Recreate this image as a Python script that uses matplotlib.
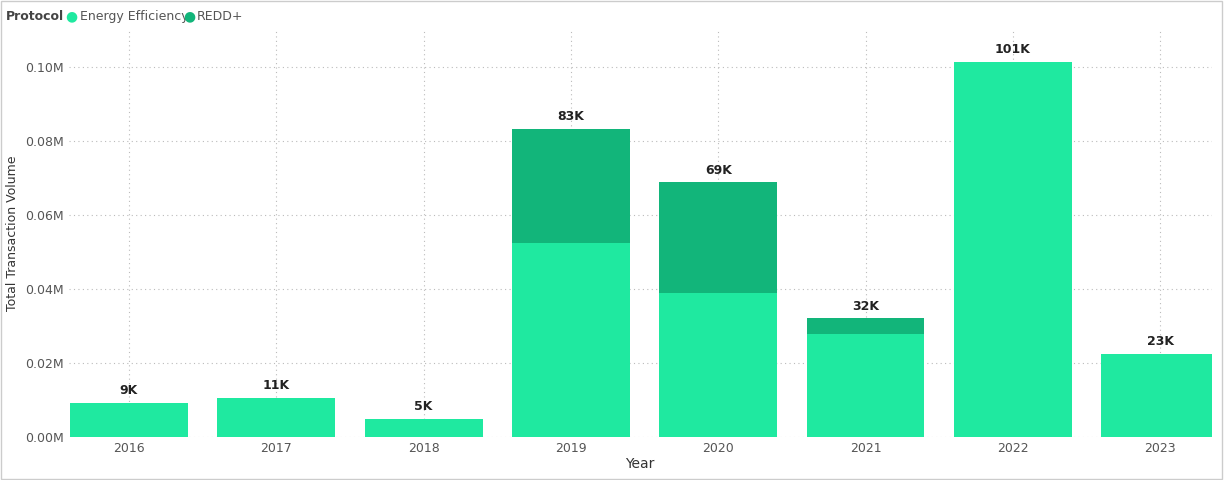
import matplotlib.pyplot as plt
from matplotlib.ticker import FuncFormatter

years = ['2016', '2017', '2018', '2019', '2020', '2021', '2022', '2023']
energy_eff = [0.0092, 0.0106, 0.0049, 0.0523, 0.0388, 0.0279, 0.1014, 0.0225]
redd = [0, 0, 0, 0.0309, 0.0300, 0.0041, 0, 0]
labels = ['9K', '11K', '5K', '83K', '69K', '32K', '101K', '23K']

c_ee = '#1FE9A0'
c_redd = '#12B57A'

fig = plt.figure(figsize=(12.24, 4.8), dpi=100)
ax = fig.add_axes([0.056, 0.09, 0.934, 0.85])

x = range(len(years))
ax.bar(x, energy_eff, width=0.8, color=c_ee, zorder=2)
ax.bar(x, redd, width=0.8, bottom=energy_eff, color=c_redd, zorder=2)
for i, lab in enumerate(labels):
    ax.text(i, energy_eff[i] + redd[i] + 0.0015, lab, ha='center', va='bottom',
            fontsize=9, fontweight='bold', color='#222222')

ax.set_xlim(-0.41, 7.35)
ax.set_ylim(0, 0.1103)
ax.set_yticks([0, 0.02, 0.04, 0.06, 0.08, 0.10])
ax.yaxis.set_major_formatter(FuncFormatter(lambda v, p: f'{v:.2f}M'))
ax.set_xticks(list(x))
ax.set_xticklabels(years)
ax.tick_params(length=0, labelsize=9, colors='#555555')
ax.grid(True, linestyle=(0, (1, 3)), color='#bbbbbb', linewidth=0.8, zorder=0)
for s in ax.spines.values():
    s.set_visible(False)
ax.set_xlabel('Year', fontsize=10, color='#333333', labelpad=2)
ax.set_ylabel('Total Transaction Volume', fontsize=9, color='#333333')

fig.text(0.005, 0.965, 'Protocol', fontsize=9, fontweight='bold', color='#444444', va='center')
fig.text(0.053, 0.965, '●', fontsize=10, color=c_ee, va='center')
fig.text(0.065, 0.965, 'Energy Efficiency', fontsize=9, color='#555555', va='center')
fig.text(0.150, 0.965, '●', fontsize=10, color=c_redd, va='center')
fig.text(0.161, 0.965, 'REDD+', fontsize=9, color='#555555', va='center')

fig.patches.append(plt.Rectangle((0.001, 0.002), 0.997, 0.995, transform=fig.transFigure,
                                 fill=False, edgecolor='#cccccc', linewidth=1))
fig.savefig('out.png', dpi=100)
